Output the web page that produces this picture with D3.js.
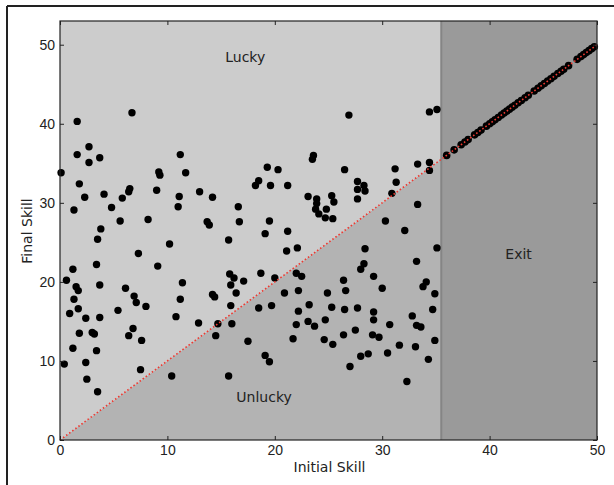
<!DOCTYPE html>
<html>
<head>
<meta charset="utf-8">
<script src="https://cdn.jsdelivr.net/npm/d3@7"></script>
<style>
  body { margin: 0; background: #fff; }
  svg { display: block; font-family: "DejaVu Sans", sans-serif; }
  .axis text { font-size: 14px; fill: #222; }
  .axis line { stroke: #222; }
  .label { font-size: 14px; fill: #222; }
</style>
</head>
<body>
<svg id="chart" width="614" height="485"></svg>
<script>
// values
const initialSkill = [
  1.6, 6.7, 2.7, 1.6, 3.7, 11.2, 2.7, 0.1, 9.2, 9.3, 11.7, 1.8, 2.3, 4.1, 1.3, 6.5, 6.4, 5.8, 9.0, 11.1,
  13.0, 4.8, 11.0, 5.6, 8.2, 3.8, 3.5, 10.2, 7.3, 3.4, 9.1, 1.2, 0.6, 1.5, 1.7, 3.7, 6.1, 11.4, 1.3, 6.9,
  7.1, 11.2, 8.0, 1.7, 5.4, 0.9, 2.4, 3.7, 10.8, 12.9, 1.8, 3.0, 3.2, 6.4, 6.8, 7.6, 1.2, 3.4, 0.4, 2.4,
  2.5, 7.5, 10.4, 3.5, 26.9, 23.6, 23.5, 19.3, 20.3, 26.5, 31.2, 33.3, 18.5, 18.2, 19.6, 21.2, 27.7, 28.3, 28.4, 27.7,
  31.3, 14.2, 23.1, 23.9, 23.9, 23.8, 24.1, 25.3, 25.5, 24.8, 24.7, 25.4, 27.7, 30.9, 33.3, 16.6, 13.7, 13.9, 16.7, 19.5,
  21.2, 19.1, 15.7, 30.3, 32.1, 22.1, 21.1, 28.4, 28.3, 28.0, 33.2, 15.8, 16.2, 17.1, 18.7, 20.0, 22.0, 22.5, 15.9, 16.4,
  26.4, 29.2, 14.2, 14.4, 20.9, 22.2, 24.9, 26.6, 30.0, 33.8, 34.1, 15.9, 18.5, 19.7, 23.2, 25.3, 26.5, 27.7, 22.2, 29.2,
  32.8, 14.7, 16.0, 22.0, 23.1, 23.7, 24.7, 29.2, 30.7, 33.2, 33.6, 14.5, 17.5, 21.7, 24.6, 25.4, 26.4, 27.5, 29.1, 29.7,
  31.6, 33.1, 19.1, 19.5, 28.0, 28.7, 30.5, 27.0, 15.7, 32.3, 34.7, 34.9, 34.3, 34.4, 34.4, 35.1, 34.9, 34.4, 35.1
];
const finalSkill = [
  40.3, 41.4, 37.1, 36.1, 35.7, 36.1, 35.1, 33.8, 33.9, 33.5, 33.8, 32.4, 30.7, 31.1, 29.1, 31.8, 31.4, 30.6, 31.6, 30.8,
  31.4, 29.4, 29.5, 27.7, 27.9, 26.7, 25.4, 24.8, 23.6, 22.2, 22.0, 21.6, 20.2, 19.4, 18.9, 19.6, 19.2, 19.9, 17.8, 18.2,
  17.4, 17.8, 16.9, 16.6, 16.4, 16.0, 15.4, 15.5, 15.6, 14.8, 13.5, 13.6, 13.4, 13.2, 14.1, 12.6, 11.6, 11.3, 9.6, 9.8,
  7.7, 8.9, 8.1, 6.1, 41.1, 36.0, 35.5, 34.5, 34.2, 34.2, 34.3, 34.9, 32.8, 32.2, 32.2, 32.2, 32.7, 32.2, 31.5, 31.7,
  32.6, 30.7, 30.8, 30.5, 29.9, 29.2, 28.6, 30.9, 30.1, 29.2, 28.1, 28.0, 30.5, 31.2, 29.8, 29.5, 27.6, 27.2, 27.6, 27.7,
  26.4, 26.1, 25.3, 27.7, 26.5, 24.3, 23.9, 24.2, 22.3, 21.6, 22.6, 21.0, 20.5, 20.1, 21.1, 20.5, 21.1, 20.7, 19.6, 18.6,
  20.2, 20.7, 18.4, 18.1, 18.6, 18.9, 18.6, 18.9, 19.2, 19.4, 20.0, 17.0, 16.7, 17.0, 17.1, 16.8, 16.5, 16.7, 16.3, 16.2,
  15.7, 14.7, 14.7, 14.6, 15.0, 14.4, 15.2, 15.2, 14.6, 14.5, 14.3, 13.2, 12.5, 12.8, 12.7, 12.1, 13.3, 13.9, 13.3, 13.0,
  12.0, 11.8, 10.7, 9.9, 10.6, 10.9, 11.0, 9.3, 8.1, 7.4, 16.5, 12.6, 10.2, 35.1, 34.1, 24.3, 18.5, 41.5, 41.8
];
// players who left: final skill equals initial skill
const exitSkill = [
  36.0, 36.7, 37.35, 37.7, 38.0, 38.6, 38.9, 39.2, 39.7, 40.0, 40.25, 40.5, 40.8, 41.1, 41.35, 41.6, 41.85,
  42.1, 42.35, 42.65, 42.95, 43.3, 43.6, 44.15, 44.5, 44.8, 45.1, 45.4, 45.7, 46.0, 46.35, 46.65, 46.9,
  47.35, 48.15, 48.5, 48.75, 49.0, 49.25, 49.5, 49.75
];
const exitLevel = 35.5;
const xTicks = [0, 10, 20, 30, 40, 50];
const yTicks = [0, 10, 20, 30, 40, 50];

const margin = { top: 21, right: 17, bottom: 45, left: 60 };
const width = 614 - margin.left - margin.right;
const height = 485 - margin.top - margin.bottom;

const svg = d3.select('#chart');

// frame around the figure (top and left edges show in the picture)
svg.append('line').attr('x1', 7).attr('y1', 6).attr('x2', 614).attr('y2', 6)
  .attr('stroke', '#222').attr('stroke-width', 2);
svg.append('line').attr('x1', 7).attr('y1', 6).attr('x2', 7).attr('y2', 485)
  .attr('stroke', '#222').attr('stroke-width', 2);

const g = svg.append('g').attr('transform', 'translate(' + margin.left + ',' + margin.top + ')');

const x = d3.scaleLinear().domain([0, 50]).range([0, width]);
const y = d3.scaleLinear().domain([0, 53]).range([height, 0]);

// background regions
const line = d3.line().x(d => x(d[0])).y(d => y(d[1]));
g.append('path')
  .attr('d', line([[0, 0], [0, 53], [exitLevel, 53], [exitLevel, exitLevel]]) + 'Z')
  .attr('fill', '#cccccc');
g.append('path')
  .attr('d', line([[0, 0], [exitLevel, exitLevel], [exitLevel, 0]]) + 'Z')
  .attr('fill', '#b3b3b3');
g.append('rect')
  .attr('x', x(exitLevel)).attr('y', 0)
  .attr('width', x(50) - x(exitLevel)).attr('height', height)
  .attr('fill', '#9a9a9a');
g.append('line')
  .attr('x1', x(exitLevel)).attr('x2', x(exitLevel))
  .attr('y1', 0).attr('y2', height)
  .attr('stroke', '#858585').attr('stroke-width', 2);

// scatter
g.append('g').selectAll('circle')
  .data(initialSkill.map((d, i) => [d, finalSkill[i]]))
  .enter().append('circle')
  .attr('cx', d => x(d[0]))
  .attr('cy', d => y(d[1]))
  .attr('r', 3.7)
  .attr('fill', '#000');

g.append('g').selectAll('circle')
  .data(exitSkill)
  .enter().append('circle')
  .attr('cx', d => x(d))
  .attr('cy', d => y(d))
  .attr('r', 3.8)
  .attr('fill', '#000');

// identity line
g.append('path')
  .attr('d', line([[0, 0], [50, 50]]))
  .attr('stroke', '#ee3a32')
  .attr('stroke-width', 1.6)
  .attr('stroke-dasharray', '1.6,2.2')
  .attr('fill', 'none');

// axes, ticks pointing inward
g.append('g').attr('class', 'axis')
  .attr('transform', 'translate(0,' + height + ')')
  .call(d3.axisBottom(x).tickValues(xTicks).tickSizeInner(-4).tickSizeOuter(0).tickPadding(5));
g.append('g').attr('class', 'axis')
  .call(d3.axisTop(x).tickValues(xTicks).tickSizeInner(-4).tickSizeOuter(0).tickFormat(''));
g.append('g').attr('class', 'axis')
  .call(d3.axisLeft(y).tickValues(yTicks).tickSizeInner(-4).tickSizeOuter(0).tickPadding(5));
g.append('g').attr('class', 'axis')
  .attr('transform', 'translate(' + width + ',0)')
  .call(d3.axisRight(y).tickValues(yTicks).tickSizeInner(-4).tickSizeOuter(0).tickFormat(''));
g.selectAll('.axis .domain').remove();

g.append('rect')
  .attr('width', width).attr('height', height)
  .attr('fill', 'none').attr('stroke', '#222').attr('stroke-width', 1.2);

// region labels
const notes = [
  { text: 'Lucky', at: [17.25, 48.4] },
  { text: 'Unlucky', at: [19.0, 5.4] },
  { text: 'Exit', at: [42.7, 23.5] }
];
g.selectAll('.note')
  .data(notes)
  .enter().append('text')
  .attr('class', 'label')
  .attr('x', d => x(d.at[0]))
  .attr('y', d => y(d.at[1]))
  .attr('dy', '0.35em')
  .attr('text-anchor', 'middle')
  .text(d => d.text);

// axis titles
svg.append('text').attr('class', 'label')
  .attr('x', 329.5).attr('y', 467).attr('dy', '0.35em')
  .attr('text-anchor', 'middle')
  .text('Initial Skill');
svg.append('text').attr('class', 'label')
  .attr('transform', 'translate(27,231) rotate(-90)')
  .attr('dy', '0.35em')
  .attr('text-anchor', 'middle')
  .text('Final Skill');
</script>
</body>
</html>
